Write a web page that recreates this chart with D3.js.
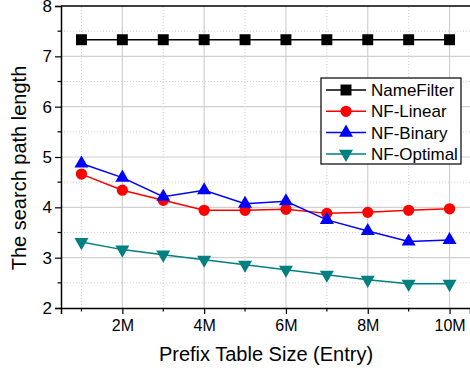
<!DOCTYPE html>
<html>
<head>
<meta charset="utf-8">
<script src="https://cdn.jsdelivr.net/npm/d3@7"></script>
<style>
  body { margin: 0; background: #fff; }
  svg { display: block; font-family: "Liberation Sans", Arial, sans-serif; }
</style>
</head>
<body>
<svg id="chart"></svg>
<script>
// data
const sizes = [1, 2, 3, 4, 5, 6, 7, 8, 9, 10];           // million entries
const nameFilter = [7.33, 7.33, 7.33, 7.33, 7.33, 7.33, 7.33, 7.33, 7.33, 7.33];
const nfLinear  = [4.66, 4.34, 4.14, 3.94, 3.94, 3.96, 3.88, 3.90, 3.94, 3.97];
const nfBinary  = [4.87, 4.59, 4.21, 4.34, 4.07, 4.12, 3.75, 3.53, 3.32, 3.35];
const nfOptimal = [3.31, 3.16, 3.06, 2.96, 2.86, 2.76, 2.66, 2.56, 2.48, 2.48];
const seriesNames = ["NameFilter", "NF-Linear", "NF-Binary", "NF-Optimal"];
const xTickLabels = ["2M", "4M", "6M", "8M", "10M"];
const yTicks = [2, 3, 4, 5, 6, 7, 8];

const width = 470, height = 375;
const margin = {top: 6, right: 0, bottom: 67, left: 61};

const svg = d3.select("#chart")
  .attr("width", width)
  .attr("height", height);

const x = d3.scaleLinear().domain([0.5, 10.5]).range([margin.left, width - margin.right]);
const y = d3.scaleLinear().domain([2, 8]).range([height - margin.bottom, margin.top]);

const series = [
  {name: seriesNames[0], values: nameFilter, color: "#000000", symbol: d3.symbolSquare, size: 120, rot: 0},
  {name: seriesNames[1], values: nfLinear,   color: "#ff0000", symbol: d3.symbolCircle, size: 100, rot: 0},
  {name: seriesNames[2], values: nfBinary,   color: "#0000ff", symbol: d3.symbolTriangle, size: 85, rot: 0},
  {name: seriesNames[3], values: nfOptimal,  color: "#008080", symbol: d3.symbolTriangle, size: 85, rot: 180}
];

// grid
const grid = svg.append("g");
grid.selectAll("line.ymin")
  .data(d3.range(2.5, 8, 1))
  .join("line")
  .attr("x1", x.range()[0]).attr("x2", x.range()[1])
  .attr("y1", d => y(d)).attr("y2", d => y(d))
  .attr("stroke", "#cfcfcf").attr("stroke-dasharray", "1,2");
grid.selectAll("line.xmin")
  .data([1, 3, 5, 7, 9])
  .join("line")
  .attr("x1", d => x(d)).attr("x2", d => x(d))
  .attr("y1", y.range()[0]).attr("y2", y.range()[1])
  .attr("stroke", "#cfcfcf").attr("stroke-dasharray", "1,2");
grid.selectAll("line.ymaj")
  .data([3, 4, 5, 6, 7])
  .join("line")
  .attr("x1", x.range()[0]).attr("x2", x.range()[1])
  .attr("y1", d => y(d)).attr("y2", d => y(d))
  .attr("stroke", "#d0d0d0").attr("stroke-width", 1.2);
grid.selectAll("line.xmaj")
  .data([2, 4, 6, 8, 10])
  .join("line")
  .attr("x1", d => x(d)).attr("x2", d => x(d))
  .attr("y1", y.range()[0]).attr("y2", y.range()[1])
  .attr("stroke", "#d0d0d0").attr("stroke-width", 1.2);

// top border
svg.append("line")
  .attr("x1", x.range()[0]).attr("x2", x.range()[1])
  .attr("y1", y(8)).attr("y2", y(8))
  .attr("stroke", "#000").attr("stroke-width", 1.5);

// axes
const xAxis = d3.axisBottom(x)
  .tickValues([2, 4, 6, 8, 10])
  .tickFormat((d, i) => xTickLabels[i])
  .tickSize(6).tickPadding(6);
const gx = svg.append("g")
  .attr("transform", `translate(0,${y(2)})`)
  .call(xAxis);
gx.select(".domain").attr("stroke-width", 1.5);
gx.selectAll(".tick line").attr("stroke-width", 1.2);
gx.selectAll(".tick text").attr("font-size", 16).attr("fill", "#000").attr("font-family", "Liberation Sans, Arial, sans-serif");
gx.selectAll("line.minor")
  .data([1, 3, 5, 7, 9])
  .join("line")
  .attr("x1", d => x(d)).attr("x2", d => x(d))
  .attr("y1", 0).attr("y2", 3.5)
  .attr("stroke", "#000").attr("stroke-width", 1.2);

const yAxis = d3.axisLeft(y)
  .tickValues(yTicks)
  .tickFormat(d3.format("d"))
  .tickSize(6).tickPadding(3);
const gy = svg.append("g")
  .attr("transform", `translate(${x(0.5)},0)`)
  .call(yAxis);
gy.select(".domain").attr("stroke-width", 1.5);
gy.selectAll(".tick line").attr("stroke-width", 1.2);
gy.selectAll(".tick text").attr("font-size", 17).attr("fill", "#000").attr("font-family", "Liberation Sans, Arial, sans-serif");
gy.selectAll("line.minor")
  .data(d3.range(2.5, 8, 1))
  .join("line")
  .attr("x1", 0).attr("x2", -3.5)
  .attr("y1", d => y(d)).attr("y2", d => y(d))
  .attr("stroke", "#000").attr("stroke-width", 1.2);

// axis titles
svg.append("text")
  .attr("x", 266).attr("y", 361)
  .attr("text-anchor", "middle")
  .attr("font-size", 20)
  .text("Prefix Table Size (Entry)");
svg.append("text")
  .attr("transform", "translate(26,168) rotate(-90)")
  .attr("text-anchor", "middle")
  .attr("font-size", 20)
  .text("The search path length");

// lines and markers
const line = d3.line()
  .x((d, i) => x(sizes[i]))
  .y(d => y(d));

series.forEach(s => {
  svg.append("path")
    .datum(s.values)
    .attr("d", line)
    .attr("fill", "none")
    .attr("stroke", s.color)
    .attr("stroke-width", 1.5);
  svg.append("g").selectAll("path")
    .data(s.values)
    .join("path")
    .attr("d", d3.symbol().type(s.symbol).size(s.size))
    .attr("transform", (d, i) => `translate(${x(sizes[i])},${y(d)}) rotate(${s.rot})`)
    .attr("fill", s.color);
});

// legend
const legend = svg.append("g").attr("transform", "translate(321,78)");
legend.append("rect")
  .attr("width", 140).attr("height", 86)
  .attr("fill", "#fff").attr("stroke", "#000").attr("stroke-width", 1.2);
const item = legend.selectAll("g.item")
  .data(series)
  .join("g")
  .attr("transform", (d, i) => `translate(0,${12 + i * 21.3})`);
item.append("line")
  .attr("x1", 5).attr("x2", 45)
  .attr("stroke", d => d.color).attr("stroke-width", 1.5);
item.append("path")
  .attr("d", d => d3.symbol().type(d.symbol).size(d.size)())
  .attr("transform", d => `translate(25,0) rotate(${d.rot})`)
  .attr("fill", d => d.color);
item.append("text")
  .attr("x", 50).attr("y", 6)
  .attr("font-size", 17)
  .text(d => d.name);
</script>
</body>
</html>
